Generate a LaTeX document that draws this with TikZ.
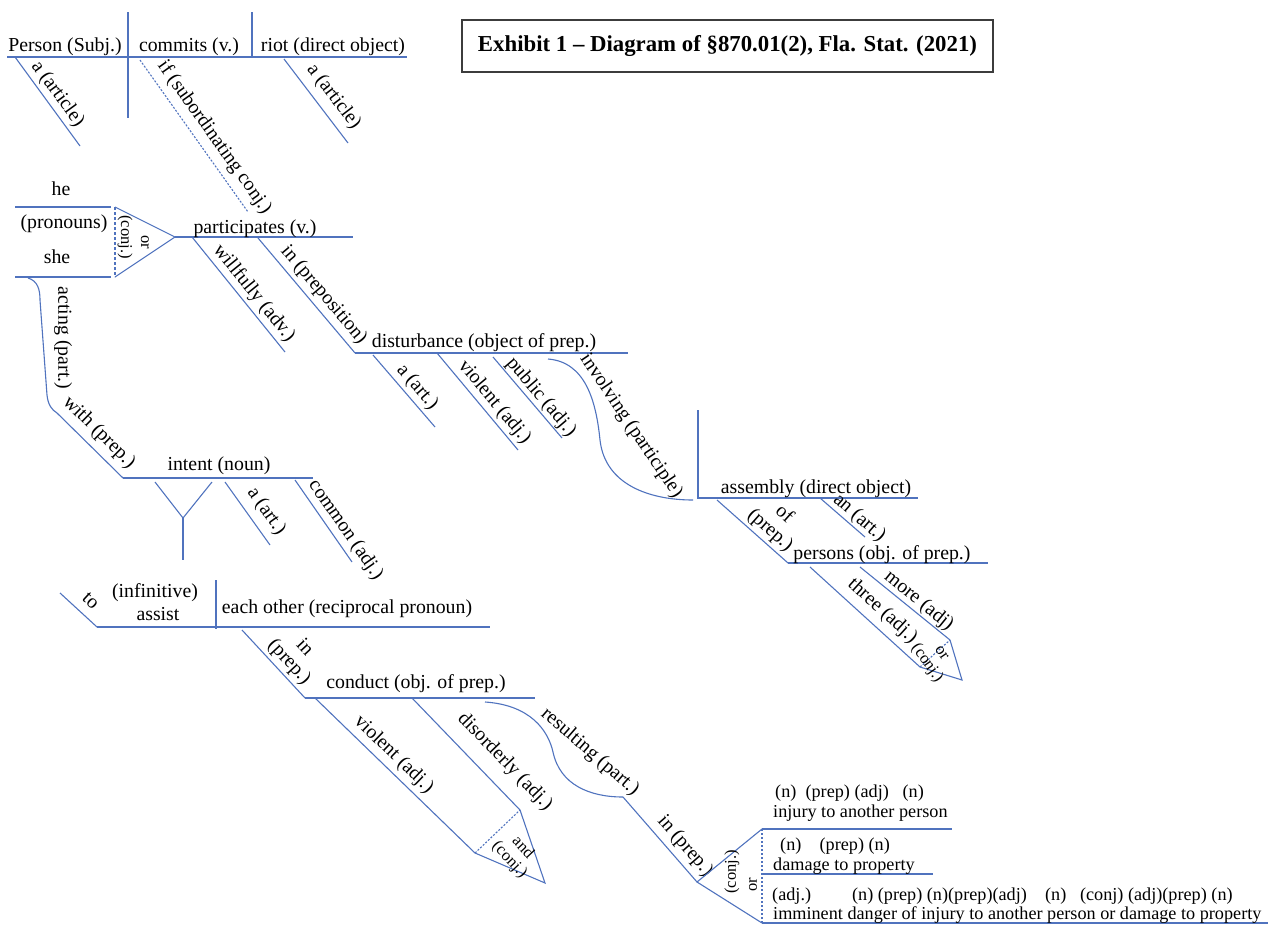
\documentclass[tikz,border=0pt]{standalone}
\usepackage{fontspec}
\setmainfont{Liberation Serif}
\definecolor{lblue}{RGB}{80,115,190}
\definecolor{boxgray}{RGB}{60,60,60}
\newcommand\dgf{\fontsize{19.8}{21}\selectfont}
\newcommand\dgs{\fontsize{18.2}{20}\selectfont}
\newcommand\dgc{\fontsize{16.5}{18}\selectfont}
\newcommand\dgtitle{\fontsize{22.8}{26}\selectfont\bfseries}
\begin{document}
\begin{tikzpicture}[x=1pt,y=-1pt,
  ln/.style={draw=lblue,line width=1.1pt},
  dotl/.style={ln,dash pattern=on 2pt off 1.6pt},
  w/.style={font=\dgf,anchor=base,inner sep=0pt},
  ws/.style={font=\dgs,anchor=base west,inner sep=0pt},
  lab/.style={font=\dgf,sloped,above=#1,inner sep=1pt},
  lab/.default=2pt,
  rl/.style={font=\dgf,inner sep=0pt,rotate=#1},
  cj/.style={font=\dgc,inner sep=0pt,rotate=#1,align=center},
]
\useasboundingbox (0,0) rectangle (1274,926);

% title
\node[draw=boxgray,line width=1.4pt,minimum width=531pt,minimum height=52pt,inner sep=0pt,font=\dgtitle] (title) at (727.5,46) {Exhibit 1 – Diagram of §870.01(2), Fla. Stat. (2021)};

% main clause
\coordinate (b1w) at (7,57); \coordinate (b1e) at (407,57);
\draw[ln] (b1w) -- (b1e);
\coordinate (v1t) at (128,12); \coordinate (v1b) at (128,118);
\draw[ln] (v1t) -- (v1b);
\coordinate (v2t) at (252,12); \coordinate (v2b) at (252,57);
\draw[ln] (v2t) -- (v2b);
\node[w] (person) at (65,51) {Person (Subj.)};
\node[w] (commits) at (189,51) {commits (v.)};
\node[w] (riot) at (333,51) {riot (direct object)};
\coordinate (a1s) at (15,57); \coordinate (a1e) at (80,146);
\draw[ln] (a1s) -- (a1e) node[lab=2pt,pos=.5] (la1) {a (article)};
\coordinate (ifs) at (140,60); \coordinate (ife) at (248,212);
\draw[dotl] (ifs) -- (ife) node[lab=5pt,pos=.57] (lif) {if (subordinating conj.)};
\coordinate (a2s) at (284,59); \coordinate (a2e) at (348,143);
\draw[ln] (a2s) -- (a2e) node[lab=6pt,pos=.57] (la2) {a (article)};

% he / she
\coordinate (hew) at (15,207); \coordinate (hee) at (111,207);
\coordinate (shw) at (15,277); \coordinate (shee) at (111,277);
\draw[ln] (hew) -- (hee);
\draw[ln] (shw) -- (shee);
\node[w] (he) at (61,195) {he};
\node[w] (pron) at (64,228) {(pronouns)};
\node[w] (shen) at (57,263) {she};
\coordinate (tr1) at (115,207); \coordinate (tr2) at (115,277); \coordinate (apex) at (175,237);
\draw[ln,dash pattern=on 3pt off 2pt] (tr1) -- (tr2);
\draw[ln] (tr1) -- (apex) -- (tr2);
\node[cj=-90] (conj1) at (125,237) {(conj.)};
\node[cj=-90] (or1) at (145,242) {or};
\coordinate (pe) at (353,237);
\draw[ln] (apex) -- (pe);
\node[w] (partic) at (255,233) {participates (v.)};
\coordinate (wfs) at (192,237); \coordinate (wfe) at (285,352);
\draw[ln] (wfs) -- (wfe) node[lab=2pt,pos=.56] (lwf) {willfully (adv.)};
\coordinate (ins) at (258,238); \coordinate (dsw) at (355,353);
\draw[ln] (ins) -- (dsw) node[lab=3pt,pos=.57] (lin) {in (preposition)};
\coordinate (dse) at (628,353);
\draw[ln] (dsw) -- (dse);
\node[w] (disturb) at (484,347) {disturbance (object of prep.)};

% disturbance modifiers
\coordinate (a4s) at (373,355); \coordinate (a4e) at (435,427);
\draw[ln] (a4s) -- (a4e) node[lab=2pt,pos=.56] (la4) {a (art.)};
\coordinate (vls1) at (437,353); \coordinate (vle1) at (518,450);
\draw[ln] (vls1) -- (vle1) node[lab=2pt,pos=.59] (lvl1) {violent (adj.)};
\coordinate (pbs) at (493,357); \coordinate (pbe) at (562,438);
\draw[ln] (pbs) -- (pbe) node[lab=0pt,pos=.58] (lpb) {public (adj.)};
\coordinate (iv0) at (548,359); \coordinate (iv1) at (600,440); \coordinate (iv2) at (693,500);
\draw[ln] (iv0) .. controls (585,362) and (596,400) .. (iv1) .. controls (605,485) and (650,500) .. (iv2);
\node[rl=-56] (involv) at (631,426) {involving (participle)};

% assembly
\coordinate (asv) at (698,410); \coordinate (asw) at (698,498); \coordinate (ase) at (918,498);
\draw[ln] (asv) -- (asw) -- (ase);
\node[w] (assembly) at (816,493) {assembly (direct object)};
\coordinate (ofs) at (717,500); \coordinate (psw) at (788,563); \coordinate (pse) at (988,563);
\draw[ln] (ofs) -- (psw) node[lab=2pt,pos=.63,align=center] (lof) {of\\(prep.)};
\draw[ln] (psw) -- (pse);
\node[w] (persons) at (882,559) {persons (obj. of prep.)};
\coordinate (ans) at (820,498); \coordinate (ane) at (865,537);
\draw[ln] (ans) -- (ane) node[lab=0pt,pos=.72] (lan) {an (art.)};
\coordinate (ths) at (810,567); \coordinate (the) at (920,667);
\draw[ln] (ths) -- (the) node[lab=5.5pt,pos=.56] (lth) {three (adj.)};
\coordinate (mrs) at (860,567); \coordinate (mre) at (950,640);
\draw[ln] (mrs) -- (mre) node[lab=0pt,pos=.58] (lmr) {more (adj)};
\coordinate (tp2) at (962,680);
\draw[ln,dash pattern=on 2pt off 1.6pt] (the) -- (mre);
\draw[ln] (mre) -- (tp2) -- (the);
\node[cj=-55] (orconj2) at (933,659) {or\\(conj.)};

% acting / with / intent
\coordinate (act0) at (28,278); \coordinate (act1) at (40,300); \coordinate (act2) at (47,395); \coordinate (wi0) at (57,413);
\draw[ln] (act0) .. controls (38,281) and (40,290) .. (act1) -- (act2) .. controls (48,405) and (52,410) .. (wi0);
\node[rl=-90] (acting) at (63,338) {acting (part.)};
\coordinate (intw) at (123,478); \coordinate (inte) at (313,478);
\draw[ln] (wi0) -- (intw) node[lab=5pt,pos=.47] (lwith) {with (prep.)};
\draw[ln] (intw) -- (inte);
\node[w] (intent) at (219,470) {intent (noun)};
\coordinate (y1) at (155,482); \coordinate (y2) at (212,482); \coordinate (y0) at (183,518); \coordinate (y3) at (183,560);
\draw[ln] (y1) -- (y0) -- (y2);
\draw[ln] (y0) -- (y3);
\coordinate (a3s) at (225,482); \coordinate (a3e) at (270,545);
\draw[ln] (a3s) -- (a3e) node[lab=6pt,pos=.62] (la3) {a (art.)};
\coordinate (cms) at (295,480); \coordinate (cme) at (352,562);
\draw[ln] (cms) -- (cme) node[lab=2.5pt,pos=.7] (lcm) {common (adj.)};

% infinitive
\coordinate (infw) at (97,627); \coordinate (infe) at (490,627);
\draw[ln] (infw) -- (infe);
\coordinate (tos) at (60,593);
\draw[ln] (tos) -- (infw) node[lab=8pt,pos=.55] (lto) {to};
\coordinate (dvt) at (216,580); \coordinate (dvb) at (216,629);
\draw[ln] (dvt) -- (dvb);
\node[w] (infin) at (155,597) {(infinitive)};
\node[w] (assist) at (158,620) {assist};
\node[w] (each) at (347,613) {each other (reciprocal pronoun)};

% conduct
\coordinate (ip2s) at (242,630); \coordinate (cdw) at (305,698); \coordinate (cde) at (535,698);
\draw[ln] (ip2s) -- (cdw) node[lab=2pt,pos=.6,align=center] (lin2) {in\\(prep.)};
\draw[ln] (cdw) -- (cde);
\node[w] (conduct) at (416,688) {conduct (obj. of prep.)};
\coordinate (vls) at (315,698); \coordinate (vle) at (475,853);
\draw[ln] (vls) -- (vle) node[lab=3.5pt,pos=.43] (lvl2) {violent (adj.)};
\coordinate (dos) at (412,698); \coordinate (doe) at (520,810);
\draw[ln] (dos) -- (doe) node[lab=12pt,pos=.71] (ldo) {disorderly (adj.)};
\coordinate (tap) at (545,883);
\draw[ln,dash pattern=on 2pt off 1.6pt] (vle) -- (doe);
\draw[ln] (doe) -- (tap) -- (vle);
\node[cj=-47] (andc) at (516,854) {and\\(conj.)};

% resulting
\coordinate (rs0) at (485,702); \coordinate (rs1) at (553,752); \coordinate (rs2) at (623,797);
\draw[ln] (rs0) .. controls (530,705) and (548,730) .. (rs1) .. controls (560,785) and (590,797) .. (rs2);
\node[rl=-41] (result) at (590,752) {resulting (part.)};
\coordinate (orv) at (697,882);
\draw[ln] (rs2) -- (orv) node[lab=4pt,pos=.69] (lin3) {in (prep.)};
\coordinate (bt) at (762,829); \coordinate (bb) at (762,923);
\draw[ln] (bt) -- (orv) -- (bb);
\draw[ln,dash pattern=on 2pt off 2pt] (bt) -- (bb);
\coordinate (l1e) at (952,829); \coordinate (l2w) at (762,874); \coordinate (l2e) at (933,874); \coordinate (l3e) at (1268,923);
\draw[ln] (bt) -- (l1e);
\draw[ln] (l2w) -- (l2e);
\draw[ln] (bb) -- (l3e);
\node[cj=90] (conj3) at (732,872) {(conj.)};
\node[cj=90] (or3) at (753,885) {or};

% objects of "in"
\node[ws] (tags1) at (775,797) {(n)\hspace{9.1pt}(prep) (adj)\hspace{13.7pt}(n)};
\node[ws] (obj1) at (773,817) {injury to another person};
\node[ws] (tags2) at (780,850) {(n)\hspace{18.2pt}(prep) (n)};
\node[ws] (obj2) at (773,870) {damage to property};
\node[ws] (tags3) at (772,900) {(adj.)\hspace{41pt}(n) (prep) (n)(prep)(adj)\hspace{18.2pt}(n)\hspace{13.7pt}(conj) (adj)(prep) (n)};
\node[ws] (obj3) at (773,919) {imminent danger of injury to another person or damage to property};
\end{tikzpicture}
\end{document}
